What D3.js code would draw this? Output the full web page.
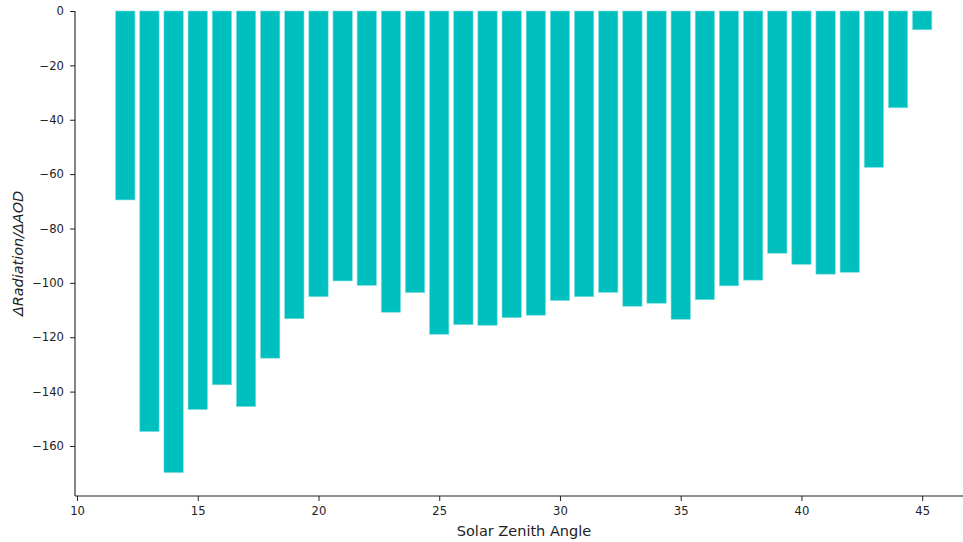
<!DOCTYPE html>
<html><head><meta charset="utf-8">
<script src="https://cdn.jsdelivr.net/npm/d3@7"></script>
<style>body{margin:0;background:#fff}svg{display:block;font-family:"DejaVu Sans",sans-serif}</style>
</head><body><svg id="c" width="963" height="542"></svg>
<script>
const angles = [12,13,14,15,16,17,18,19,20,21,22,23,24,25,26,27,28,29,30,31,32,33,34,35,36,37,38,39,40,41,42,43,44,45];
const values = [-69.5,-154.7,-169.8,-146.6,-137.5,-145.5,-127.7,-113.2,-105.1,-99.3,-100.9,-110.8,-103.6,-118.9,-115.4,-115.6,-112.8,-111.9,-106.5,-105.1,-103.5,-108.6,-107.5,-113.4,-106.2,-101.1,-99.0,-89.1,-93.2,-96.8,-96.1,-57.5,-35.6,-6.9];
const xTicks = [10,15,20,25,30,35,40,45];
const yTicks = [0,-20,-40,-60,-80,-100,-120,-140,-160];

const svg = d3.select("#c");
const L = 75, R = 963, T = 11, B = 496;
const x = d3.scaleLinear().domain([9.917, 46.69]).range([L, R]);
const y = d3.scaleLinear().domain([0, -178.4]).range([T, B]);
const bw = 0.8;

svg.append("g").selectAll("rect").data(angles).join("rect")
  .attr("x", (d) => x(d - bw/2))
  .attr("width", (d) => x(d + bw/2) - x(d - bw/2))
  .attr("y", y(0))
  .attr("height", (d,i) => y(values[i]) - y(0))
  .attr("fill", "#00bfbf")
  .attr("stroke", "#7fdfdf").attr("stroke-width", 0.6);

const xa = svg.append("g").attr("transform", `translate(0,${B})`)
  .call(d3.axisBottom(x).tickValues(xTicks).tickFormat(d3.format("d")).tickSize(5).tickPadding(6));
const ya = svg.append("g").attr("transform", `translate(${L},0)`)
  .call(d3.axisLeft(y).tickValues(yTicks).tickFormat(d => d < 0 ? "\u2212" + Math.abs(d) : d).tickSize(5).tickPadding(6));
[xa, ya].forEach(a => {
  a.selectAll("text").attr("font-size", 11.6).attr("fill", "#222").attr("font-family", "DejaVu Sans");
  a.selectAll("line").attr("stroke", "#222");
  a.select(".domain").attr("stroke", "#222").attr("stroke-width", 1.1);
});
ya.select(".domain").attr("d", `M0,${T}V${B}`);
xa.select(".domain").attr("d", `M${L},0H${R}`);

svg.append("text").attr("x", 524).attr("y", 536).attr("text-anchor", "middle")
  .attr("font-size", 14.5).attr("fill", "#222").text("Solar Zenith Angle");
svg.append("text").attr("transform", `translate(23,${(T+B)/2}) rotate(-90)`).attr("text-anchor", "middle")
  .attr("font-size", 14.4).attr("font-style", "italic").attr("fill", "#222").text("ΔRadiation/ΔAOD");
</script></body></html>
